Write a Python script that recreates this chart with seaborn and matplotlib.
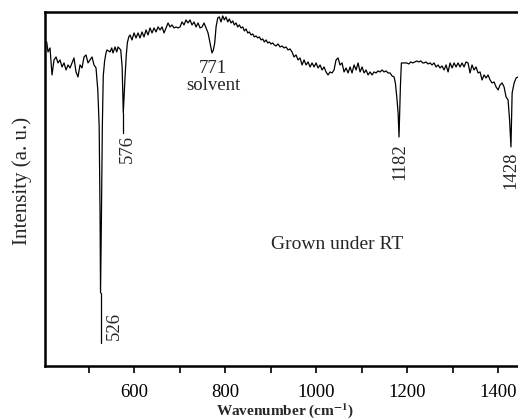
import matplotlib
matplotlib.use("Agg")
import matplotlib.pyplot as plt
import seaborn as sns
import pandas as pd

sns.set_theme(style="white")
plt.rcParams['font.family'] = ['Liberation Serif', 'DejaVu Serif']
plt.rcParams['mathtext.fontset'] = 'stix'

wavenumber = [
    407.7, 410.6, 415.0, 419.4, 423.8, 428.2, 432.6, 437.0, 441.4, 445.8, 450.2, 454.6,
    459.0, 463.3, 467.7, 472.1, 476.5, 480.9, 485.3, 489.7, 494.1, 498.5, 502.9, 507.3,
    511.7, 516.1, 520.0, 523.0, 525.0, 526.0, 528.0, 530.0, 532.0, 535.0, 538.0, 540.3,
    546.9, 550.6, 553.5, 557.9, 561.6, 564.5, 570.4, 573.5, 576.0, 580.0, 582.5, 584.9,
    588.0, 590.8, 595.2, 599.6, 604.0, 608.4, 612.8, 617.2, 621.6, 626.0, 630.4, 634.8,
    639.2, 643.6, 648.0, 652.4, 656.8, 661.2, 665.6, 670.0, 674.4, 678.8, 683.1, 687.5,
    691.9, 696.3, 700.7, 705.1, 709.5, 713.9, 718.3, 722.7, 727.1, 731.5, 735.9, 740.3,
    744.7, 749.1, 753.5, 757.9, 762.3, 766.7, 771.0, 774.0, 777.0, 779.9, 783.6, 787.1,
    790.8, 794.6, 798.1, 801.8, 805.6, 809.1, 812.8, 816.6, 820.1, 823.8, 827.6, 831.1,
    834.8, 838.6, 842.1, 845.8, 849.6, 853.1, 856.8, 860.5, 864.0, 867.8, 871.5, 875.0,
    878.8, 882.5, 886.0, 889.8, 893.5, 897.0, 900.7, 904.5, 908.0, 911.7, 916.1, 920.5,
    924.9, 929.3, 933.7, 938.1, 942.5, 946.9, 951.3, 955.7, 960.1, 964.5, 968.9, 973.3,
    977.7, 982.1, 986.5, 990.9, 995.3, 999.7, 1004.1, 1008.5, 1012.9, 1017.2, 1021.6, 1026.0,
    1030.4, 1034.8, 1039.2, 1043.6, 1048.0, 1052.4, 1056.8, 1061.2, 1065.6, 1070.0, 1074.4, 1078.8,
    1083.2, 1087.6, 1092.0, 1096.4, 1100.8, 1105.2, 1109.6, 1114.0, 1118.4, 1122.7, 1127.1, 1131.5,
    1135.9, 1140.3, 1144.7, 1149.1, 1153.5, 1157.9, 1162.3, 1166.7, 1171.1, 1174.0, 1177.1, 1180.0,
    1182.0, 1185.0, 1187.2, 1190.9, 1194.6, 1199.0, 1203.4, 1207.8, 1212.2, 1216.6, 1221.0, 1225.4,
    1229.8, 1234.2, 1237.0, 1241.4, 1245.8, 1250.2, 1254.6, 1259.0, 1263.4, 1267.8, 1272.2, 1276.6,
    1281.0, 1285.4, 1289.8, 1294.2, 1298.6, 1303.0, 1307.4, 1311.8, 1316.2, 1320.5, 1324.9, 1329.3,
    1333.7, 1338.1, 1342.5, 1346.9, 1351.3, 1355.7, 1360.1, 1364.5, 1368.9, 1373.3, 1377.7, 1382.1,
    1386.5, 1390.9, 1395.3, 1399.7, 1404.1, 1408.5, 1412.9, 1417.3, 1421.7, 1425.0, 1428.0, 1430.6,
    1435.0, 1439.4, 1443.8, 1450.0,
]
intensity = [
    324, 314, 318, 291, 306, 309, 303, 306, 299, 303, 296, 301,
    298, 303, 308, 294, 289, 301, 298, 309, 311, 303, 306, 309,
    301, 298, 276, 240, 150, 73, 150, 240, 290, 305, 313, 316,
    314, 318, 313, 319, 314, 319, 316, 299, 253, 290, 310, 323,
    329, 331, 326, 333, 328, 333, 328, 334, 329, 336, 331, 338,
    333, 338, 334, 339, 336, 339, 333, 338, 343, 339, 341, 338,
    339, 338, 339, 344, 341, 346, 343, 346, 341, 344, 339, 343,
    338, 339, 343, 338, 333, 323, 313, 316, 323, 339, 348, 349,
    344, 350, 346, 349, 344, 347, 343, 345, 341, 343, 339, 341,
    338, 339, 335, 337, 333, 334, 331, 332, 329, 330, 328, 329,
    326, 327, 324, 326, 323, 324, 322, 323, 321, 320, 322, 319,
    320, 318, 319, 316, 317, 314, 309, 311, 306, 308, 301, 306,
    301, 304, 299, 303, 299, 303, 298, 301, 296, 299, 294, 291,
    294, 293, 296, 306, 308, 301, 303, 294, 298, 293, 299, 293,
    301, 296, 303, 294, 299, 293, 296, 291, 294, 291, 294, 293,
    295, 294, 296, 294, 295, 293, 293, 290, 289, 283, 269, 253,
    229, 279, 303, 303, 303, 303, 302, 304, 303, 304, 305, 304,
    305, 303, 303, 304, 302, 303, 301, 303, 299, 301, 298, 300,
    296, 301, 294, 303, 298, 303, 299, 303, 299, 303, 299, 304,
    303, 293, 301, 296, 299, 293, 294, 286, 291, 288, 291, 286,
    283, 284, 279, 276, 281, 283, 279, 269, 266, 246, 219, 273,
    283, 288, 289, 290,
]

peak_labels = ["526", "576", "1182", "1428"]
peak_pos = [526, 576, 1182, 1428]
peak_label_x = [556.8, 584.2, 1183, 1428]
peak_label_y = [40, 217, 204, 196]
leader_end = [23, 233, None, None]

solvent_peak = 771
solvent_text = "771\nsolvent"
sample_text = "Grown under RT"

df = pd.DataFrame({"w": wavenumber, "I": intensity})

fig = plt.figure(figsize=(5.18, 4.19), dpi=100)
ax = fig.add_axes([0.0869, 0.1265, 0.9276, 0.845])
sns.lineplot(data=df, x="w", y="I", ax=ax, color="black", linewidth=0.9,
             sort=False, estimator=None)

ax.set_xlim(404, 1460)
ax.set_ylim(0, 354)
ax.set_yticks([])
ax.set_xticks([600, 800, 1000, 1200, 1400])
ax.set_xticks([500, 700, 900, 1100, 1300], minor=True)
ax.tick_params(axis="x", which="major", direction="out", length=5, width=1.2,
               labelsize=13.5, bottom=True, colors="black", pad=8)
ax.tick_params(axis="x", which="minor", direction="out", length=5, width=1.2,
               bottom=True, colors="black")
for s in ax.spines.values():
    s.set_linewidth(1.8)
    s.set_color("black")

ax.set_xlabel("Wavenumber (cm$^{\\mathbf{-1}}$)", fontsize=11, fontweight="bold",
              labelpad=0)
ax.set_ylabel("Intensity (a. u.)", fontsize=15)
ax.yaxis.set_label_coords(-0.027, 0.523)

for lab, p, lx, ly, le in zip(peak_labels, peak_pos, peak_label_x, peak_label_y, leader_end):
    if le is not None:
        pmin = df.loc[(df.w - p).abs().idxmin(), "I"]
        ax.plot([p, p], [le, pmin], color="black", linewidth=0.9)
    ax.text(lx, ly, lab, rotation=90, ha="center", va="center", fontsize=13.5)

ax.text(773, 289, solvent_text, ha="center", va="center", fontsize=13.5,
        linespacing=0.95)
ax.text(900.7, 121, sample_text, ha="left", va="center", fontsize=14)

fig.savefig("out.png", dpi=100)
